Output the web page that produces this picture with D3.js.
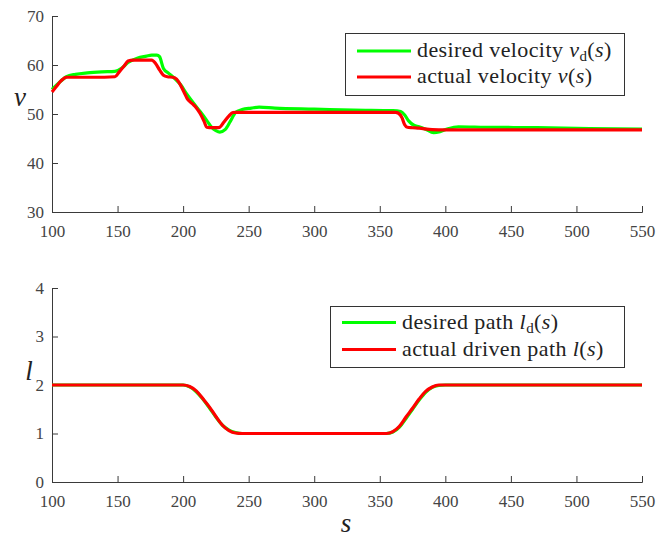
<!DOCTYPE html>
<html>
<head>
<meta charset="utf-8">
<script src="https://cdn.jsdelivr.net/npm/d3@7"></script>
<style>
  body { margin: 0; background: #fff; }
  svg { display: block; }
</style>
</head>
<body>
<svg id="chart" width="667" height="538"></svg>
<script>
// velocity panel
let sVd = [100, 105, 111, 118, 127, 138, 148, 153, 158, 165, 172, 176, 180, 182, 185, 189, 193, 198, 203, 208, 213, 218, 222, 225, 228, 232, 236, 240, 245, 252, 258, 270, 300, 330, 360, 366, 369, 372, 376, 380, 385, 391, 396, 402, 410, 430, 470, 510, 550];
let vDesired = [55.0, 56.3, 57.6, 58.1, 58.4, 58.6, 58.7, 59.3, 60.5, 61.4, 61.8, 62.0, 62.0, 61.7, 59.3, 58.3, 57.4, 56.0, 54.0, 52.2, 50.5, 48.7, 47.2, 46.6, 46.3, 46.8, 48.5, 50.3, 50.9, 51.2, 51.4, 51.2, 51.0, 50.8, 50.7, 50.5, 49.8, 48.6, 47.7, 47.4, 46.9, 46.2, 46.4, 47.0, 47.4, 47.3, 47.2, 47.0, 46.9];
let sV = [100, 103, 107, 111, 120, 130, 140, 148, 151, 155, 158, 162, 170, 176, 179, 182, 185, 188, 192, 195, 198, 201, 203, 207, 210, 213, 216, 218, 222, 226, 228, 231, 235, 238, 240, 260, 300, 340, 362, 364, 367, 369, 371, 375, 380, 390, 400, 450, 500, 550];
let vActual = [54.5, 55.5, 56.8, 57.5, 57.5, 57.5, 57.5, 57.6, 58.5, 59.8, 60.8, 61.0, 61.0, 61.0, 60.3, 59.0, 57.9, 57.6, 57.5, 57.1, 55.9, 54.3, 53.2, 52.1, 51.3, 50.1, 48.5, 47.3, 47.2, 47.2, 47.3, 48.3, 49.6, 50.3, 50.35, 50.35, 50.35, 50.35, 50.35, 50.2, 49.2, 47.8, 47.3, 47.2, 47.1, 46.8, 46.75, 46.75, 46.75, 46.75];

// path panel
let sL = [100, 150, 200, 205, 210, 215, 220, 225, 230, 235, 240, 245, 250, 300, 350, 355, 360, 365, 370, 375, 380, 385, 390, 395, 400, 450, 500, 550];
let lDesired = [2, 2, 2, 1.96, 1.86, 1.71, 1.53, 1.34, 1.17, 1.07, 1.02, 1.0, 1.0, 1.0, 1.0, 1.0, 1.03, 1.13, 1.31, 1.50, 1.69, 1.85, 1.95, 1.99, 2, 2, 2, 2];
let lActual = [2, 2, 2, 1.97, 1.88, 1.72, 1.55, 1.35, 1.17, 1.06, 1.01, 1.0, 1.0, 1.0, 1.0, 1.0, 1.04, 1.15, 1.34, 1.52, 1.71, 1.87, 1.96, 2.0, 2, 2, 2, 2];

let xTicks = [100, 150, 200, 250, 300, 350, 400, 450, 500, 550];
let vTicks = [30, 40, 50, 60, 70];
let lTicks = [0, 1, 2, 3, 4];

let font = "Liberation Serif";
let svg = d3.select("#chart").attr("font-family", font);
let axisColor = "#3a3a3a";
let left = 52, right = 642;

let x = d3.scaleLinear().domain([100, 550]).range([left, right]);

function drawPanel(top, bottom, yDomain, yTicks, series, yLabel, labelY, legend) {
    let y = d3.scaleLinear().domain(yDomain).range([bottom, top]);
    let g = svg.append("g");

    let xAxis = g.append("g")
        .attr("transform", "translate(0," + bottom + ")")
        .call(d3.axisBottom(x).tickValues(xTicks).tickSize(-6).tickPadding(13).tickFormat(d3.format("d")));
    let yAxis = g.append("g")
        .attr("transform", "translate(" + left + ",0)")
        .call(d3.axisLeft(y).tickValues(yTicks).tickSize(-6).tickPadding(8).tickFormat(d3.format("d")));

    [xAxis, yAxis].forEach(function (a) {
        a.attr("font-family", font).attr("font-size", 17);
        a.select(".domain").attr("stroke", axisColor).attr("stroke-width", 1);
        a.selectAll(".tick line").attr("stroke", axisColor);
        a.selectAll(".tick text")
            .attr("fill", "#444")
            .attr("font-size", 17)
            .attr("font-family", font);
    });

    let line = d3.line()
        .x(d => x(d[0]))
        .y(d => y(d[1]))
        .curve(d3.curveMonotoneX);

    series.forEach(function (s) {
        g.append("path")
            .datum(d3.zip(s.xs, s.ys))
            .attr("fill", "none")
            .attr("stroke", s.color)
            .attr("stroke-width", 3.2)
            .attr("stroke-linejoin", "round")
            .attr("d", line);
    });

    g.append("text")
        .attr("x", yLabel.x)
        .attr("y", labelY)
        .attr("text-anchor", "middle")
        .attr("font-family", font)
        .attr("font-style", "italic")
        .attr("font-size", 27)
        .attr("fill", "#222")
        .text(yLabel.text);

    // legend
    let lg = g.append("g");
    lg.append("rect")
        .attr("x", legend.x0).attr("y", legend.y0)
        .attr("width", legend.x1 - legend.x0).attr("height", legend.y1 - legend.y0)
        .attr("fill", "#fff").attr("stroke", "#333").attr("stroke-width", 1);
    legend.items.forEach(function (it, i) {
        let cy = legend.rows[i];
        lg.append("line")
            .attr("x1", legend.sx0).attr("x2", legend.sx1)
            .attr("y1", cy).attr("y2", cy)
            .attr("stroke", series[i].color).attr("stroke-width", 3.2);
        let t = lg.append("text")
            .attr("x", legend.tx).attr("y", cy + 6)
            .attr("font-family", font)
            .attr("font-size", 22)
            .attr("letter-spacing", 0.4)
            .attr("fill", "#222");
        t.append("tspan").text(it.label + " ");
        t.append("tspan").attr("font-style", "italic").text(it.sym);
        if (it.sub) {
            t.append("tspan").attr("dy", 4).attr("font-size", 15).text(it.sub);
            t.append("tspan").attr("dy", -4).text("(");
        } else {
            t.append("tspan").text("(");
        }
        t.append("tspan").attr("font-style", "italic").text("s");
        t.append("tspan").text(")");
    });
}

drawPanel(16, 212, [30, 70], vTicks,
    [{xs: sVd, ys: vDesired, color: "#00ff00"}, {xs: sV, ys: vActual, color: "#ff0000"}],
    {x: 20, text: "v"}, 106,
    {x0: 345.5, x1: 624.5, y0: 33.5, y1: 95.5, sx0: 357, sx1: 411, tx: 417, rows: [51, 77],
     items: [{label: "desired velocity", sym: "v", sub: "d"}, {label: "actual velocity", sym: "v"}]});

drawPanel(288, 482, [0, 4], lTicks,
    [{xs: sL, ys: lDesired, color: "#00ff00"}, {xs: sL, ys: lActual, color: "#ff0000"}],
    {x: 29, text: "l"}, 380,
    {x0: 330.5, x1: 624.5, y0: 306.5, y1: 367.5, sx0: 342, sx1: 396, tx: 402, rows: [322.5, 349.5],
     items: [{label: "desired path", sym: "l", sub: "d"}, {label: "actual driven path", sym: "l"}]});

svg.append("text")
    .attr("x", 346).attr("y", 532)
    .attr("text-anchor", "middle")
    .attr("font-family", font)
    .attr("font-style", "italic")
    .attr("font-size", 27)
    .attr("fill", "#222")
    .text("s");
</script>
</body>
</html>
